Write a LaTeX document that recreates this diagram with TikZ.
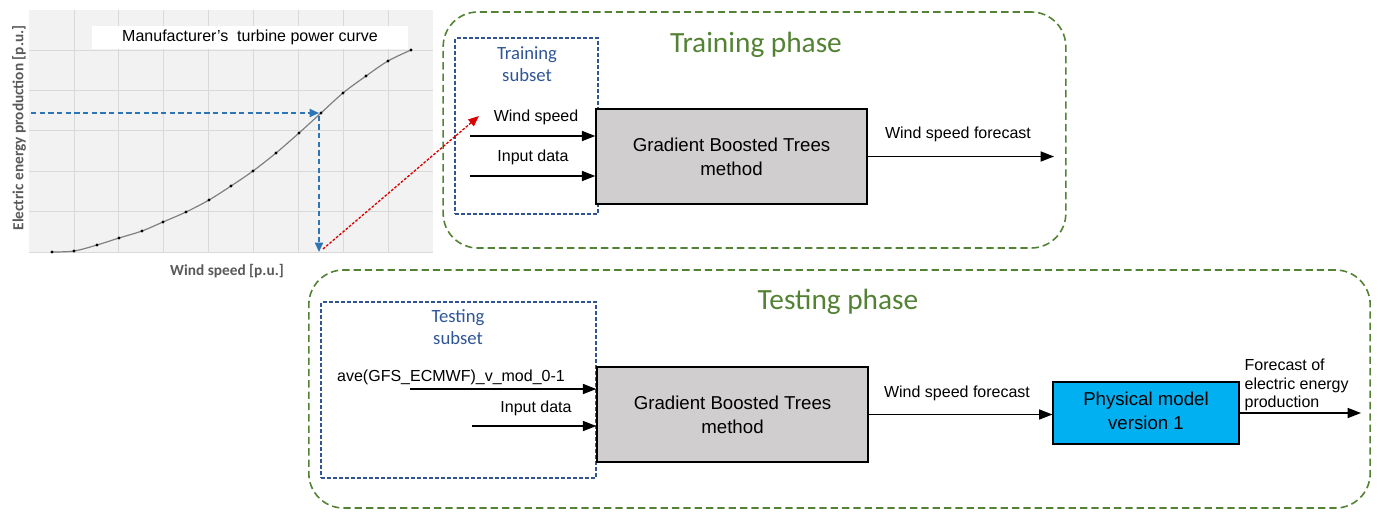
\documentclass[tikz,border=0pt]{standalone}
\usepackage{fontspec}
\setmainfont{Liberation Sans}
\newfontfamily\calibri{Carlito}
\usetikzlibrary{positioning, arrows.meta}
\definecolor{phasegreen}{RGB}{84,130,53}
\definecolor{subsetblue}{RGB}{47,85,151}
\definecolor{readblue}{RGB}{46,117,182}
\definecolor{gbtgray}{RGB}{208,206,206}
\definecolor{modelcyan}{RGB}{0,176,240}
\definecolor{plotbg}{RGB}{242,242,242}
\definecolor{plotgrid}{RGB}{217,217,217}
\definecolor{axisgray}{RGB}{89,89,89}

\begin{document}
\begin{tikzpicture}[x=0.75pt, y=-0.75pt,
  phase/.style={draw=phasegreen, dash pattern=on 5.5pt off 3pt, line width=1.2pt, rounded corners=26pt, inner sep=0pt},
  phasetitle/.style={text=phasegreen, font=\calibri\fontsize{22}{26}\selectfont},
  subset/.style={draw=subsetblue, dash pattern=on 3pt off 1.5pt, line width=1.2pt, inner sep=0pt},
  setlabel/.style={text=subsetblue, align=center, font=\calibri\fontsize{14}{17}\selectfont},
  method/.style={draw, line width=1.3pt, fill=gbtgray, align=center, font=\fontsize{14}{18}\selectfont,
                 minimum width=203pt, minimum height=71pt},
  model/.style={draw, line width=1.3pt, fill=modelcyan, font=\fontsize{14}{18}\selectfont,
                minimum width=139pt, minimum height=46.5pt},
  small/.style={font=\fontsize{12}{14}\selectfont, inner sep=1pt},
  axislbl/.style={text=axisgray, font=\calibri\bfseries\fontsize{11.5}{13}\selectfont},
  arrow/.style={-{Triangle[length=10pt, width=7.5pt]}, line width=1.1pt},
  readoff/.style={-{Triangle[length=7pt, width=6pt]}, readblue, line width=1.3pt, dash pattern=on 4pt off 2.5pt},
  transfer/.style={-{Triangle[length=8pt, width=6.5pt]}, red!85!black, line width=1pt, dash pattern=on 2pt off 1.2pt}
]
\useasboundingbox (0,0) rectangle (1380,511);

\fill[plotbg] (29,10) rectangle (433,253);
\foreach \gx in {1,...,8}
  \draw[plotgrid, line width=0.6pt] ({29+44.9*\gx},10) -- ({29+44.9*\gx},252);
\foreach \gy in {0,...,5}
  \draw[plotgrid, line width=0.6pt] (29,{252-40.4*\gy}) -- (433,{252-40.4*\gy});
\node[fill=white, inner sep=0pt, minimum width=237pt, minimum height=17pt, font=\fontsize{12}{14}\selectfont] (curvetitle) at (250,37.5) {Manufacturer’s~ turbine power curve};
\draw[gray, line width=0.9pt] plot[smooth, tension=0.55] coordinates {
  (52,252) (74,251) (97,245) (119,238) (142,231) (163,222) (186,212) (209,200) (231,186)
  (253,171) (276,153) (299,133) (321,113) (343,93) (366,76) (388,61) (411,50)};
\foreach \px/\py in {52/252, 74/251, 97/245, 119/238, 142/231, 163/222, 186/212, 209/200, 231/186,
  253/171, 276/153, 299/133, 321/113, 343/93, 366/76, 388/61, 411/50}
  \fill (\px,\py) circle[radius=1.3pt];
\node[axislbl, rotate=90] (ylbl) at (19,128) {Electric energy production [p.u.]};
\node[axislbl] (xlbl) at (227,271) {Wind speed [p.u.]};

\coordinate (ystart) at (31,113);
\coordinate (hit) at (319,113);
\coordinate (xend) at (319,252);
\draw[readoff] (ystart) -- (hit);
\draw[readoff] ([yshift=-2pt]hit) -- (xend);

\node[phase, minimum width=467pt, minimum height=177pt] (trainphase) at (754.5,130) {};
\node[phasetitle] (traintitle) at (756,45) {Training phase};
\node[subset, minimum width=107pt, minimum height=132pt] (trainset) at (526.5,126) {};
\node[setlabel] (trainlbl) at (527,64) {Training\\subset};
\node[method] (gbt1) at (731.5,156.5) {Gradient Boosted Trees\\method};
\coordinate (ws1) at (470,136);
\coordinate (in1) at (470,176);
\node[small] (wslbl) at (536,117) {Wind speed};
\node[small] (inlbl1) at (533,157) {Input data};
\draw[arrow] (ws1) -- (ws1 -| gbt1.west);
\draw[arrow] (in1) -- (in1 -| gbt1.west);
\coordinate (out1) at (1054,0);
\draw[arrow] (gbt1.east) -- (gbt1.east -| out1);
\node[small] (fc1) at (958,134) {Wind speed forecast};

\coordinate (wsfoot) at (323,249);
\coordinate (wstip) at (479,116);
\draw[transfer] (wsfoot) -- (wstip);

\node[phase, minimum width=796pt, minimum height=178.5pt] (testphase) at (839.5,389) {};
\node[phasetitle] (testtitle) at (838,302) {Testing phase};
\node[subset, minimum width=206pt, minimum height=132pt] (testset) at (458.5,390) {};
\node[setlabel] (testlbl) at (458,327) {Testing\\subset};
\node[method] (gbt2) at (732.5,414.5) {Gradient Boosted Trees\\method};
\node[model] (phys) at (1146,413) {\raisebox{4pt}{\begin{tabular}{@{}c@{}}Physical model\\version 1\end{tabular}}};
\coordinate (ave) at (410,389);
\coordinate (in2) at (472,426);
\node[small] (avelbl) at (451,377) {ave(GFS\_ECMWF)\_v\_mod\_0-1};
\node[small] (inlbl2) at (536,408) {Input data};
\draw[arrow] (ave) -- (ave -| gbt2.west);
\draw[arrow] (in2) -- (in2 -| gbt2.west);
\draw[arrow] (gbt2.east) -- (gbt2.east -| phys.west);
\node[small] (fc2) at (957,393) {Wind speed forecast};
\coordinate (out2) at (1361,0);
\draw[arrow] (phys.east) -- (phys.east -| out2);
\node[small, align=left, anchor=west] (energylbl) at (1243,385) {Forecast of\\electric energy\\production};
\end{tikzpicture}
\end{document}
